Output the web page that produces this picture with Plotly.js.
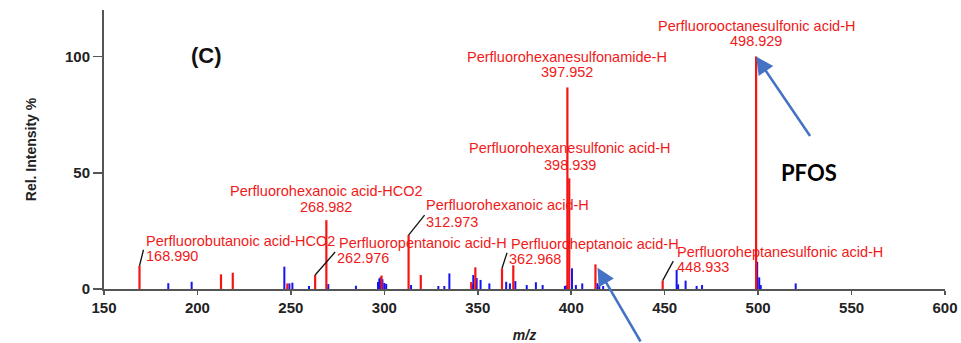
<!DOCTYPE html>
<html>
<head>
<meta charset="utf-8">
<script src="https://cdn.plot.ly/plotly-3.0.1.min.js"></script>
<style>
  html, body { margin: 0; padding: 0; background: #fff; }
  #chart { width: 961px; height: 343px; }
</style>
</head>
<body>
<div id="chart"></div>
<script>
// ---- Data ----
// Identified (red) peaks
const redMz = [168.990, 212.6, 218.9, 248.1, 262.976, 268.982, 298.5, 312.973, 319.5, 346.5, 348.7, 362.968, 369.0, 397.952, 398.939, 412.966, 448.933, 498.929];
const redH  = [10.0, 6.3, 7.0, 2.4, 6.0, 29.6, 5.8, 23.2, 6.0, 3.0, 9.3, 8.9, 10.2, 86.7, 47.6, 10.6, 3.6, 100];

// Unidentified (blue) peaks
const blueMz = [184.4, 196.9, 246.5, 249.2, 250.8, 259.7, 270.0, 284.8, 296.6, 297.3, 297.9, 299.0, 300.0, 301.0, 314.3, 328.9, 332.1, 334.8, 346.9, 347.6, 349.4, 351.5, 356.2, 365.2, 367.2, 370.1, 376.2, 381.1, 384.7, 396.6, 397.3, 400.4, 402.5, 405.9, 414.0, 415.0, 417.1, 456.4, 457.2, 461.2, 467.1, 470.0, 499.5, 500.6, 501.4, 520.1];
const blueH  = [2.5, 3.1, 9.6, 2.4, 2.7, 1.3, 2.1, 1.4, 3.0, 4.5, 5.0, 4.2, 2.6, 2.2, 1.7, 1.3, 1.3, 6.7, 2.1, 6.0, 4.7, 3.9, 2.4, 3.1, 2.4, 3.4, 1.7, 2.9, 1.7, 1.3, 1.5, 8.9, 1.7, 2.4, 2.5, 1.7, 1.3, 8.2, 2.0, 3.6, 1.3, 1.7, 11.7, 5.0, 1.7, 2.4];

// Labelled peaks
const labelMz = [168.990, 268.982, 262.976, 312.973, 397.952, 398.939, 362.968, 448.933, 498.929];
const labelNames = [
  'Perfluorobutanoic acid-HCO2',
  'Perfluorohexanoic acid-HCO2',
  'Perfluoropentanoic acid-H',
  'Perfluorohexanoic acid-H',
  'Perfluorohexanesulfonamide-H',
  'Perfluorohexanesulfonic acid-H',
  'Perfluoroheptanoic acid-H',
  'Perfluoroheptanesulfonic acid-H',
  'Perfluorooctanesulfonic acid-H'
];

// Axis ticks
const xTicks = [150, 200, 250, 300, 350, 400, 450, 500, 550, 600];
const yTicks = [0, 50, 100];

// ---- Layout config (pixel offsets of labels relative to peak tops) ----
// [anchor, name dx, name up, value dx, value up, leader dx, leader up]
const labelPlace = [
  ['left',   4.5, 24.8, 4.5, 9.8,  4, 16],
  ['center', 0,   29,   0,   13,   0, 0],
  ['left',  21.8, 32,  19.8, 17,  20, 23],
  ['left',  15.8, 30,  15.8, 13.5, 16, 20],
  ['center', 0,   30.7, 0,   15.4, 0, 0],
  ['center', 1,   30.3, 1,   13.6, 0, 0],
  ['left',   7,   24.3, 5.4, 9.6,  5, 15.5],
  ['left',  12.8, 28.9, 12.8, 13.9, 10.6, 19.5],
  ['center', 0,   30.5, 0,   15.2, 0, 0]
];

function sticks(mz, h) {
  const x = [], y = [];
  mz.forEach((m, i) => { x.push(m, m, null); y.push(0, h[i], null); });
  return { x, y };
}
function heightOf(m) {
  const i = redMz.indexOf(m);
  return redH[i];
}

const blue = sticks(blueMz, blueH);
const red = sticks(redMz, redH);

const traces = [
  { type: 'scatter', mode: 'lines', x: blue.x, y: blue.y,
    line: { color: '#1414f0', width: 2 }, hoverinfo: 'skip', showlegend: false },
  { type: 'scatter', mode: 'lines', x: red.x, y: red.y,
    line: { color: '#f41414', width: 2.2 }, hoverinfo: 'skip', showlegend: false }
];

const labelFont = { family: 'Liberation Sans, Arial, sans-serif', size: 14.5, color: '#f01a1a' };
const annotations = [];
const shapes = [];

labelMz.forEach((m, i) => {
  const h = heightOf(m);
  const p = labelPlace[i];
  annotations.push({ x: m, y: h, xref: 'x', yref: 'y', text: labelNames[i], showarrow: false,
    xanchor: p[0], yanchor: 'middle', xshift: p[1], yshift: p[2], font: labelFont });
  annotations.push({ x: m, y: h, xref: 'x', yref: 'y', text: m.toFixed(3), showarrow: false,
    xanchor: p[0], yanchor: 'middle', xshift: p[3], yshift: p[4], font: labelFont });
  if (p[5] !== 0 || p[6] !== 0) {
    shapes.push({ type: 'line', xref: 'x', yref: 'y', xsizemode: 'pixel', ysizemode: 'pixel',
      xanchor: m, yanchor: h, x0: 0, y0: 0, x1: p[5], y1: p[6],
      line: { color: '#111', width: 1.3 } });
  }
});

// Panel letter
annotations.push({ xref: 'paper', yref: 'paper', x: 0.1213, y: 0.8387, text: '<b>(C)</b>',
  showarrow: false, xanchor: 'center', yanchor: 'middle',
  font: { family: 'Liberation Sans, Arial, sans-serif', size: 22, color: '#111' } });

// PFOS callout
annotations.push({ xref: 'paper', yref: 'paper', x: 0.8383, y: 0.4158, text: '<b>PFOS</b>',
  showarrow: false, xanchor: 'center', yanchor: 'middle',
  font: { family: 'Lato, Carlito, sans-serif', size: 22, color: '#000' } });

// Blue pointer arrows
annotations.push({ x: 498.929, y: 100, xref: 'x', yref: 'y', text: '', showarrow: true,
  ax: 55, ay: 81, arrowhead: 2, arrowsize: 1.4, arrowwidth: 2.5, arrowcolor: '#4472c4', standoff: 0 });
annotations.push({ x: 412.966, y: 10.6, xref: 'x', yref: 'y', text: '', showarrow: true,
  ax: 46, ay: 86, arrowhead: 2, arrowsize: 1.4, arrowwidth: 2.5, arrowcolor: '#4472c4', standoff: 4 });

const tickFont = { family: 'Liberation Sans, Arial, sans-serif', size: 15, color: '#222', weight: 'bold' };

const layout = {
  width: 961, height: 343,
  margin: { l: 104, r: 16, t: 10, b: 54 },
  paper_bgcolor: '#fff', plot_bgcolor: '#fff',
  showlegend: false,
  xaxis: {
    range: [150, 600], tickvals: xTicks, ticktext: xTicks.map(String),
    showgrid: false, zeroline: false, showline: true, linecolor: '#555', linewidth: 2,
    ticks: 'outside', ticklen: 4, tickwidth: 1.5, tickcolor: '#555', tickfont: tickFont,
    title: { text: '<b><i>m/z</i></b>', font: { family: 'Liberation Sans, Arial, sans-serif', size: 14, color: '#222' }, standoff: 15 }
  },
  yaxis: {
    range: [0, 120], tickvals: yTicks, ticktext: yTicks.map(String),
    showgrid: false, zeroline: false, showline: true, linecolor: '#555', linewidth: 2,
    ticks: 'outside', ticklen: 9, tickwidth: 1.5, tickcolor: '#555', tickfont: tickFont,
    title: { text: '<b>Rel. Intensity %</b>', font: { family: 'Liberation Sans, Arial, sans-serif', size: 14, color: '#222' }, standoff: 25 }
  },
  annotations: annotations,
  shapes: shapes
};

Plotly.newPlot('chart', traces, layout, { staticPlot: true, displayModeBar: false });
</script>
</body>
</html>
